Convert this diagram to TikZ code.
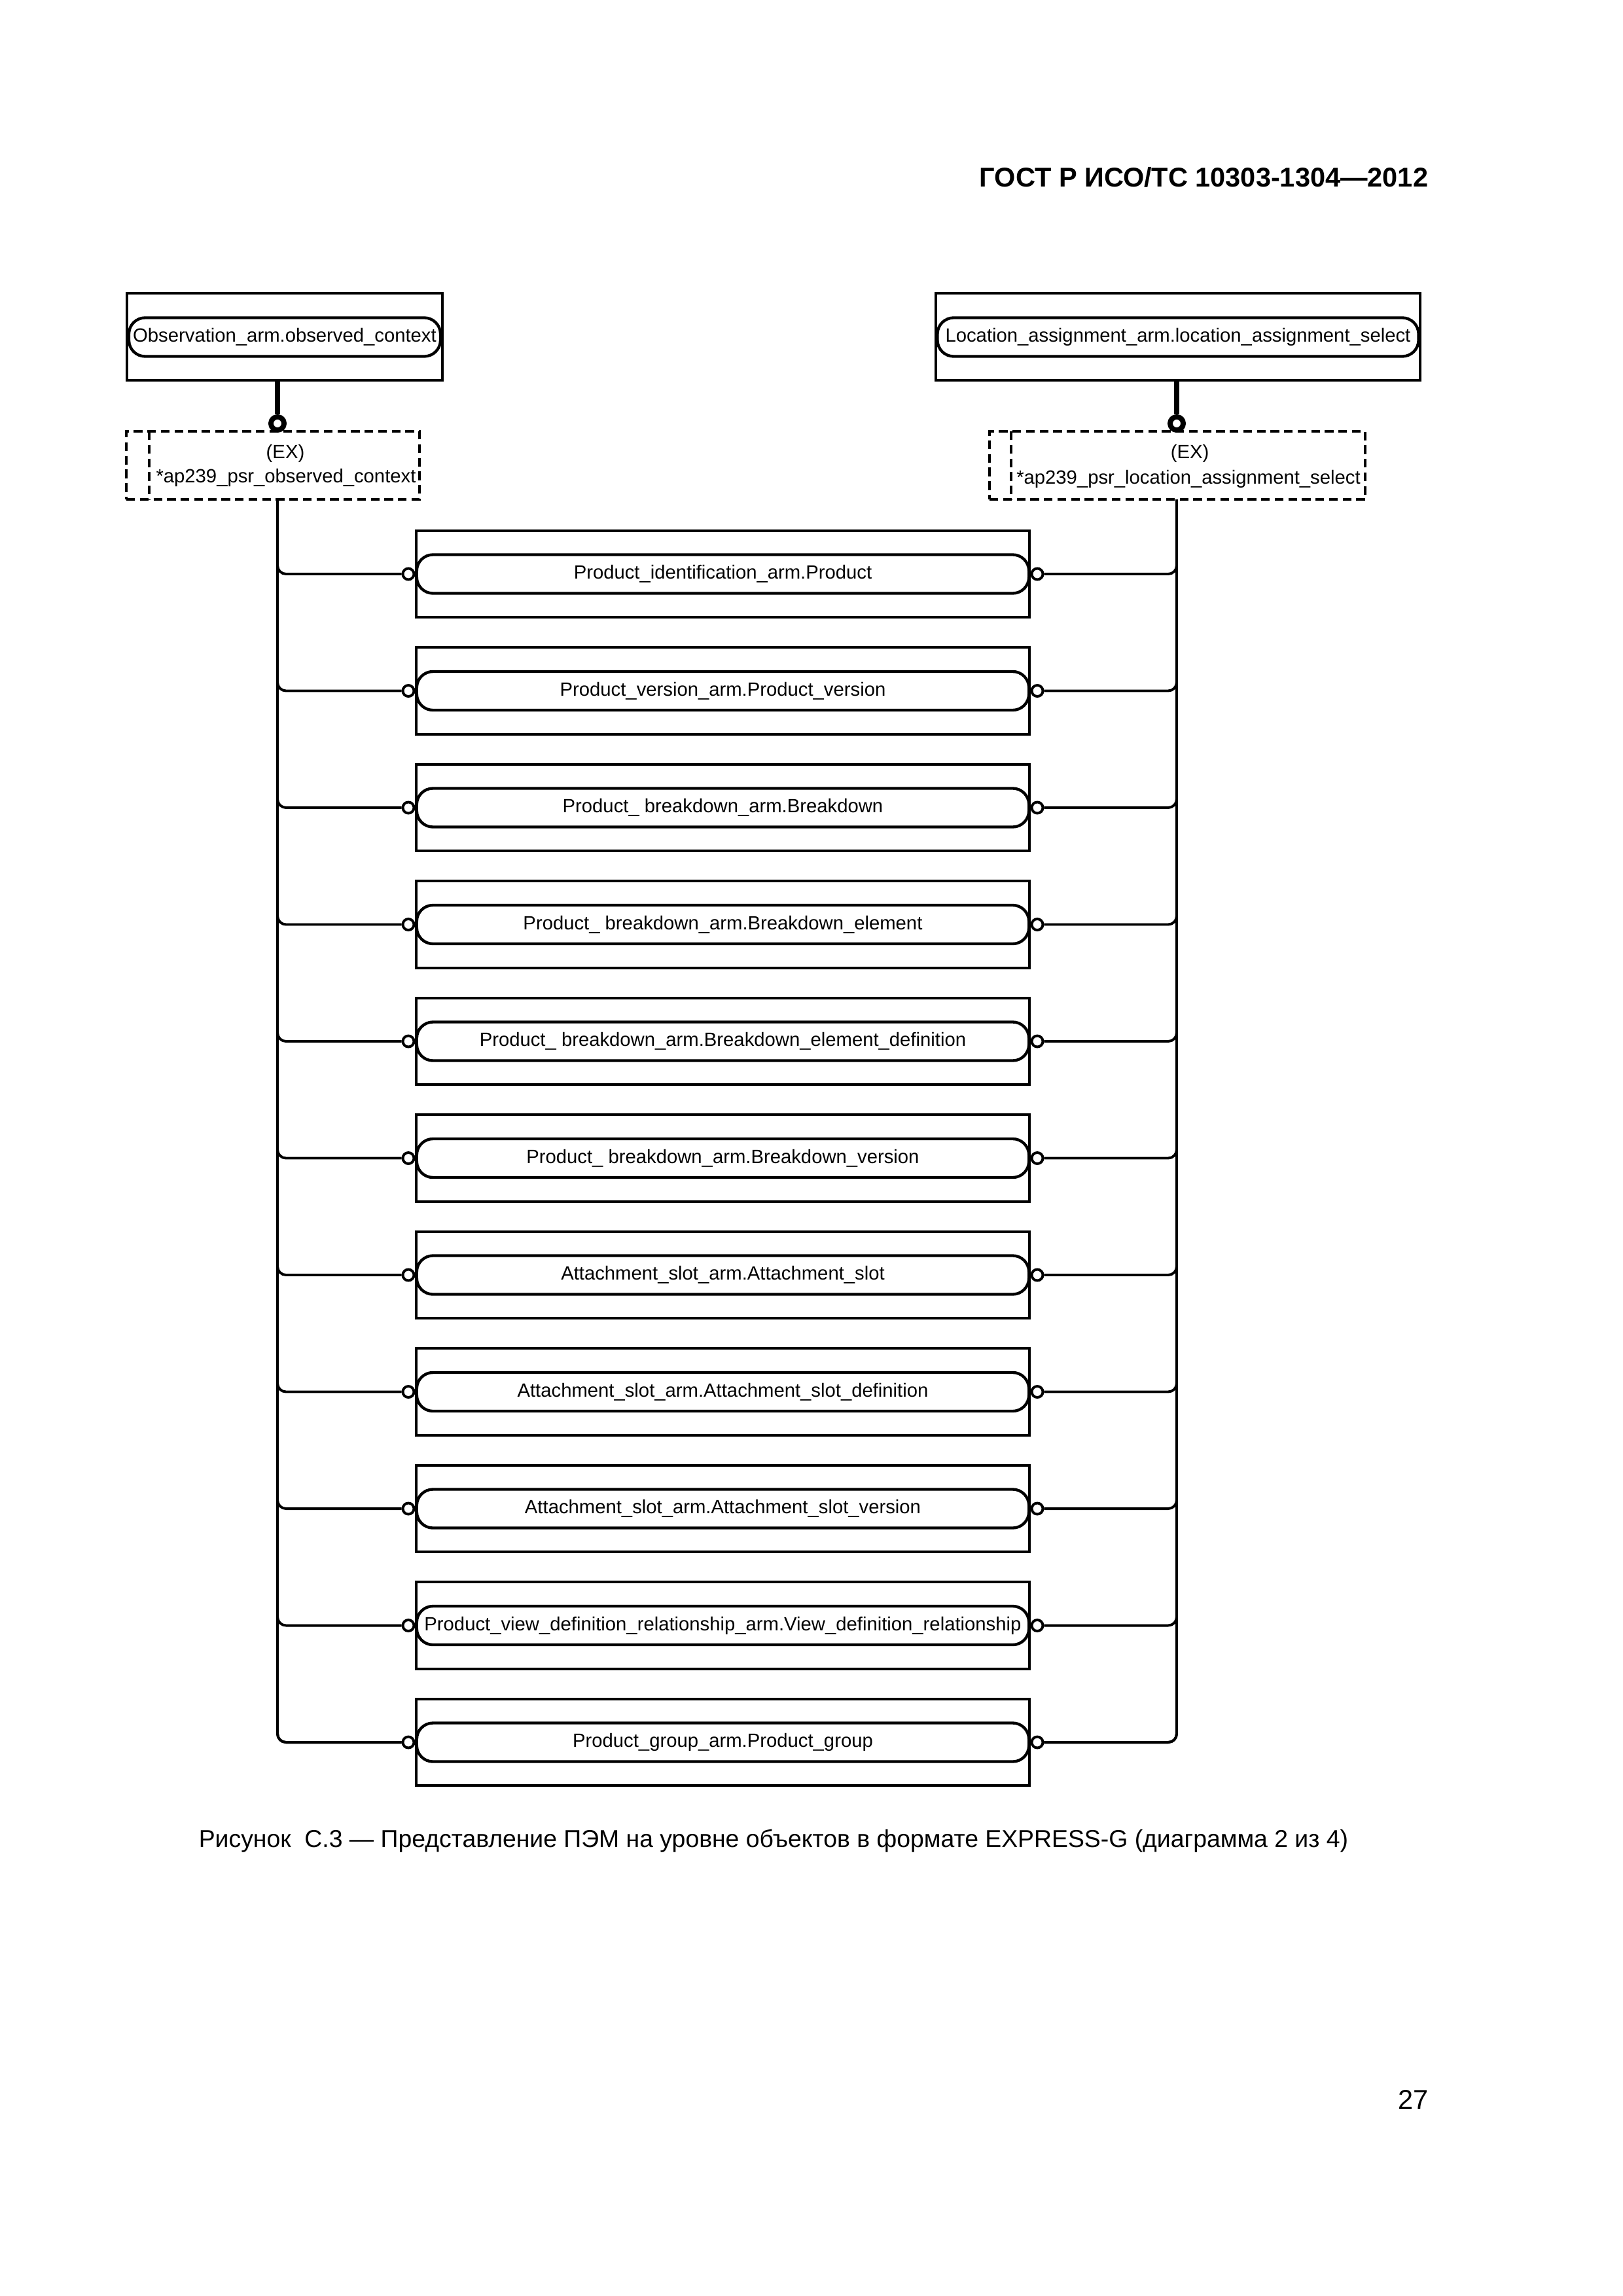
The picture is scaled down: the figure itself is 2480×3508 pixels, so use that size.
\documentclass[tikz,border=0pt]{standalone}
\usepackage{fontspec}
\setmainfont{Liberation Sans}
\usetikzlibrary{calc}
\begin{document}
\begin{tikzpicture}[x=0.084677mm,y=-0.084677mm,
  lbl/.style={font=\fontsize{7.05}{8.5}\selectfont},
  ebox/.style={draw,line width=0.95pt,inner sep=0pt,minimum height=11.2mm},
  rbox/.style={draw,line width=1.05pt,rounded corners=2.1mm,inner sep=0pt,minimum height=5.0mm,lbl},
  sc/.style={circle,draw,line width=0.95pt,fill=white,minimum size=1.44mm,inner sep=0pt},
  bc/.style={circle,draw,line width=1.9pt,fill=white,minimum size=1.7mm,inner sep=0pt},
  conn/.style={line width=0.95pt,rounded corners=1.1mm},
  thk/.style={line width=1.9pt},
  dbox/.style={draw,line width=0.95pt,dash pattern=on 3.2pt off 1.8pt,inner sep=0pt},
  dline/.style={line width=0.95pt,dash pattern=on 3.2pt off 1.8pt},
  txt/.style={inner sep=0pt,lbl}
]
\useasboundingbox (0,0) rectangle (2480,3508);

% header and page number
\node[anchor=east,inner sep=0pt,font=\fontsize{10}{12}\selectfont\bfseries] (hdr) at (2183,271) {ГОСТ Р ИСО/ТС 10303-1304—2012};
\node[anchor=east,inner sep=0pt,font=\fontsize{10}{12}\selectfont] (pg) at (2183,3208) {27};

% top entities
\node[ebox,minimum width=40.81mm,minimum height=11.26mm] (tL) at (435,514.5) {};
\node[rbox,minimum width=40.31mm] (tLr) at (435,515) {Observation\_arm.observed\_context};
\node[ebox,minimum width=62.66mm,minimum height=11.26mm] (tR) at (1800,514.5) {};
\node[rbox,minimum width=62.24mm] (tRr) at (1800,515) {Location\_assignment\_arm.location\_assignment\_select};

% dashed (EX) boxes
\node[dbox,minimum width=37.93mm,minimum height=8.81mm] (dL) at (417,711) {};
\draw[dline] (228,659) coordinate (dLi1) -- (228,763) coordinate (dLi2);
\node[txt] (exL) at (436,693) {(EX)};
\node[txt] (nmL) at (437,730) {*ap239\_psr\_observed\_context};

\node[dbox,minimum width=48.60mm,minimum height=8.81mm] (dR) at (1799,711) {};
\draw[dline] (1545,659) coordinate (dRi1) -- (1545,763) coordinate (dRi2);
\node[txt] (exR) at (1818,693) {(EX)};
\node[txt] (nmR) at (1816,732) {*ap239\_psr\_location\_assignment\_select};

% thick connectors with circles
\node[bc] (cL) at (424,647) {};
\node[bc] (cR) at (1798,647) {};
\draw[thk] (tL.south -| cL) -- (cL.north);
\draw[thk] (tR.south -| cR) -- (cR.north);

\coordinate (ltop) at (424,763);
\coordinate (rtop) at (1798,763);

% rows
\foreach \i/\t in {
 1/{Product\_identification\_arm.Product},
 2/{Product\_version\_arm.Product\_version},
 3/{Product\_ breakdown\_arm.Breakdown},
 4/{Product\_ breakdown\_arm.Breakdown\_element},
 5/{Product\_ breakdown\_arm.Breakdown\_element\_definition},
 6/{Product\_ breakdown\_arm.Breakdown\_version},
 7/{Attachment\_slot\_arm.Attachment\_slot},
 8/{Attachment\_slot\_arm.Attachment\_slot\_definition},
 9/{Attachment\_slot\_arm.Attachment\_slot\_version},
 10/{Product\_view\_definition\_relationship\_arm.View\_definition\_relationship},
 11/{Product\_group\_arm.Product\_group}} {
  \pgfmathsetmacro\yy{877+178.5*(\i-1)}
  \node[ebox,minimum width=79.34mm] (e\i) at (1104.5,\yy) {};
  \node[rbox,minimum width=79.2mm] (r\i) at (1104.5,\yy) {\t};
  \node[sc] (cl\i) at (624,\yy) {};
  \node[sc] (cr\i) at (1585,\yy) {};
  \coordinate (jl\i) at (424,\yy-40);
  \coordinate (jr\i) at (1798,\yy-40);
  \draw[conn] (jl\i) |- (cl\i.west);
  \draw[conn] (jr\i) |- (cr\i.east);
}
\draw[conn] (ltop) |- (cl11.west);
\draw[conn] (rtop) |- (cr11.east);

% caption
\node[anchor=base,inner sep=0pt,font=\fontsize{9}{11}\selectfont] (cap) at (1182,2822) {Рисунок\ \ С.3 — Представление ПЭМ на уровне объектов в формате EXPRESS-G (диаграмма 2 из 4)};
\end{tikzpicture}
\end{document}
